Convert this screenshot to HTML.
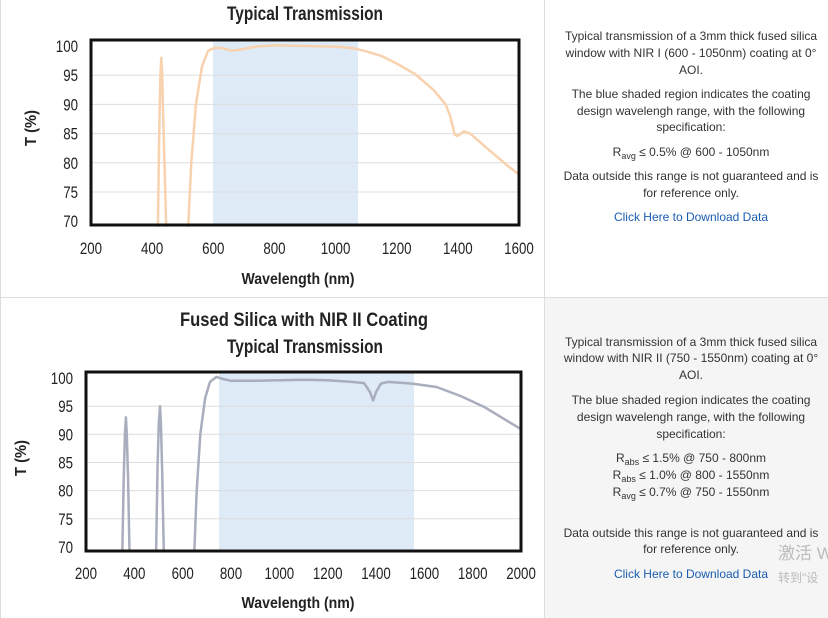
<!DOCTYPE html>
<html><head><meta charset="utf-8"><style>
body{margin:0;width:828px;height:618px;overflow:hidden;background:#fff;font-family:"Liberation Sans",sans-serif}
svg{display:block}
</style></head><body>
<svg id="s" width="828" height="618" xmlns="http://www.w3.org/2000/svg" font-family="Liberation Sans, sans-serif">
<rect x="545" y="298" width="283" height="320" fill="#f5f5f5"/>
<line x1="544.5" y1="0" x2="544.5" y2="618" stroke="#ddd"/>
<line x1="0" y1="297.5" x2="828" y2="297.5" stroke="#ddd"/>
<line x1="0.5" y1="0" x2="0.5" y2="618" stroke="#ddd"/>

<!-- chart 1 -->
<rect x="213" y="41" width="145" height="184" fill="#deeaf6"/>
<g stroke="#ddd" stroke-width="1">
<line x1="91" x2="519" y1="75.2" y2="75.2"/><line x1="91" x2="519" y1="104.4" y2="104.4"/>
<line x1="91" x2="519" y1="133.6" y2="133.6"/><line x1="91" x2="519" y1="162.8" y2="162.8"/>
<line x1="91" x2="519" y1="192" y2="192"/></g>
<path id="c1" fill="none" stroke="#f8d2ae" stroke-width="2.5" stroke-linejoin="round"/>
<rect x="91" y="40" width="428" height="185" fill="none" stroke="#111" stroke-width="3"/>
<g font-weight="bold" fill="#222">
<text x="305" y="20" font-size="19" text-anchor="middle" textLength="156" lengthAdjust="spacingAndGlyphs">Typical Transmission</text>
<text x="298" y="284" font-size="16" text-anchor="middle" textLength="113" lengthAdjust="spacingAndGlyphs">Wavelength (nm)</text>
<text transform="translate(36,128) rotate(-90)" font-size="16" text-anchor="middle" textLength="36" lengthAdjust="spacingAndGlyphs">T (%)</text>
</g>
<g font-size="17" fill="#222" text-anchor="end" id="y1"></g>
<g font-size="17" fill="#222" text-anchor="middle" id="x1"></g>

<!-- chart 2 -->
<rect x="219" y="373" width="195" height="177" fill="#deeaf6"/>
<g stroke="#ddd" stroke-width="1">
<line x1="86" x2="521" y1="406.2" y2="406.2"/><line x1="86" x2="521" y1="434.3" y2="434.3"/>
<line x1="86" x2="521" y1="462.5" y2="462.5"/><line x1="86" x2="521" y1="490.6" y2="490.6"/>
<line x1="86" x2="521" y1="518.8" y2="518.8"/></g>
<path id="c2" fill="none" stroke="#a9adbd" stroke-width="2.5" stroke-linejoin="round"/>
<rect x="86" y="372" width="435" height="179" fill="none" stroke="#111" stroke-width="3"/>
<g font-weight="bold" fill="#222">
<text x="304" y="326" font-size="19" text-anchor="middle" textLength="248" lengthAdjust="spacingAndGlyphs">Fused Silica with NIR II Coating</text>
<text x="305" y="353" font-size="19" text-anchor="middle" textLength="156" lengthAdjust="spacingAndGlyphs">Typical Transmission</text>
<text x="298" y="608" font-size="16" text-anchor="middle" textLength="113" lengthAdjust="spacingAndGlyphs">Wavelength (nm)</text>
<text transform="translate(26,458) rotate(-90)" font-size="16" text-anchor="middle" textLength="36" lengthAdjust="spacingAndGlyphs">T (%)</text>
</g>
<g font-size="17" fill="#222" text-anchor="end" id="y2"></g>
<g font-size="17" fill="#222" text-anchor="middle" id="x2"></g>

<!-- right text -->
<g font-size="12" fill="#333" text-anchor="middle">
<text x="691" y="40">Typical transmission of a 3mm thick fused silica</text>
<text x="691" y="57">window with NIR I (600 - 1050nm) coating at 0°</text>
<text x="691" y="74">AOI.</text>
<text x="691" y="98">The blue shaded region indicates the coating</text>
<text x="691" y="115">design wavelengh range, with the following</text>
<text x="691" y="131">specification:</text>
<text x="691" y="156">R<tspan font-size="9" dy="3">avg</tspan><tspan dy="-3"> ≤ 0.5% @ 600 - 1050nm</tspan></text>
<text x="691" y="180">Data outside this range is not guaranteed and is</text>
<text x="691" y="197">for reference only.</text>
<text x="691" y="221" fill="#1a5cb0">Click Here to Download Data</text>

<text x="691" y="346">Typical transmission of a 3mm thick fused silica</text>
<text x="691" y="362">window with NIR II (750 - 1550nm) coating at 0°</text>
<text x="691" y="379">AOI.</text>
<text x="691" y="404">The blue shaded region indicates the coating</text>
<text x="691" y="421">design wavelengh range, with the following</text>
<text x="691" y="438">specification:</text>
<text x="691" y="462">R<tspan font-size="9" dy="3">abs</tspan><tspan dy="-3"> ≤ 1.5% @ 750 - 800nm</tspan></text>
<text x="691" y="479">R<tspan font-size="9" dy="3">abs</tspan><tspan dy="-3"> ≤ 1.0% @ 800 - 1550nm</tspan></text>
<text x="691" y="496">R<tspan font-size="9" dy="3">avg</tspan><tspan dy="-3"> ≤ 0.7% @ 750 - 1550nm</tspan></text>
<text x="691" y="537">Data outside this range is not guaranteed and is</text>
<text x="691" y="553">for reference only.</text>
<text x="691" y="578" fill="#1a5cb0">Click Here to Download Data</text>
</g>
<text x="778" y="559" font-size="17" fill="#bbb" font-family="Liberation Sans, Noto Sans CJK SC, sans-serif">激活 W</text>
<text x="778" y="582" font-size="12" fill="#bbb" font-family="Liberation Sans, Noto Sans CJK SC, sans-serif">转到"设</text>
</svg>
<script>
function P(pts,fx,fy){return pts.map((p,i)=>(i?'L':'M')+fx(p[0]).toFixed(1)+' '+fy(p[1]).toFixed(1)).join(' ');}
var fx1=w=>91+(w-200)*0.3057, fy1=t=>46+(100-t)*5.84;
var fx2=w=>86+(w-200)*0.2417, fy2=t=>378+(100-t)*5.63;
var a=[[419,69],[423,85],[427,95],[430,98],[433,95],[438,84],[446,69]],
b=[[518,69],[528,80],[543,90],[563,96.5],[583,99.2],[605,99.7],[630,99.6],[660,99.2],[690,99.4],[740,99.9],[800,100.1],[900,100],[1000,99.9],[1060,99.6],[1100,99.1],[1150,98.3],[1200,97],[1260,95.2],[1320,92.5],[1360,90],[1375,88],[1390,84.8],[1400,84.6],[1420,85.4],[1440,85],[1500,82.3],[1560,79.6],[1600,78]];
document.getElementById('c1').setAttribute('d',P(a,fx1,fy1)+' '+P(b,fx1,fy1));
var c=[[350,69],[356,82],[361,90],[365,93],[369,90],[374,82],[380,69]],
d=[[490,69],[496,84],[501,92],[506,95],[510,92],[515,84],[522,69]],
e=[[648,69],[658,80],[673,90],[693,96.5],[713,99.3],[740,100.2],[760,99.9],[800,99.5],[900,99.5],[1000,99.6],[1100,99.7],[1200,99.6],[1300,99.3],[1350,99.1],[1375,97.5],[1388,96],[1400,97.5],[1420,99],[1450,99.3],[1550,99],[1650,98.4],[1750,96.8],[1850,94.8],[1950,92.2],[2000,90.9]];
document.getElementById('c2').setAttribute('d',P(c,fx2,fy2)+' '+P(d,fx2,fy2)+' '+P(e,fx2,fy2));
function lab(id,arr,px,py){var g=document.getElementById(id);arr.forEach(v=>{var t=document.createElementNS('http://www.w3.org/2000/svg','text');t.setAttribute('x',px(v));t.setAttribute('y',py(v));t.textContent=v;var n=String(v).length;t.setAttribute('textLength',(n*7.4).toFixed(1));t.setAttribute('lengthAdjust','spacingAndGlyphs');g.appendChild(t);});}
lab('y1',[100,95,90,85,80,75,70],v=>78,v=>fy1(v)+6);
lab('x1',[200,400,600,800,1000,1200,1400,1600],v=>fx1(v),v=>254);
lab('y2',[100,95,90,85,80,75,70],v=>73,v=>fy2(v)+6);
lab('x2',[200,400,600,800,1000,1200,1400,1600,1800,2000],v=>fx2(v),v=>579);
</script>
</body></html>
